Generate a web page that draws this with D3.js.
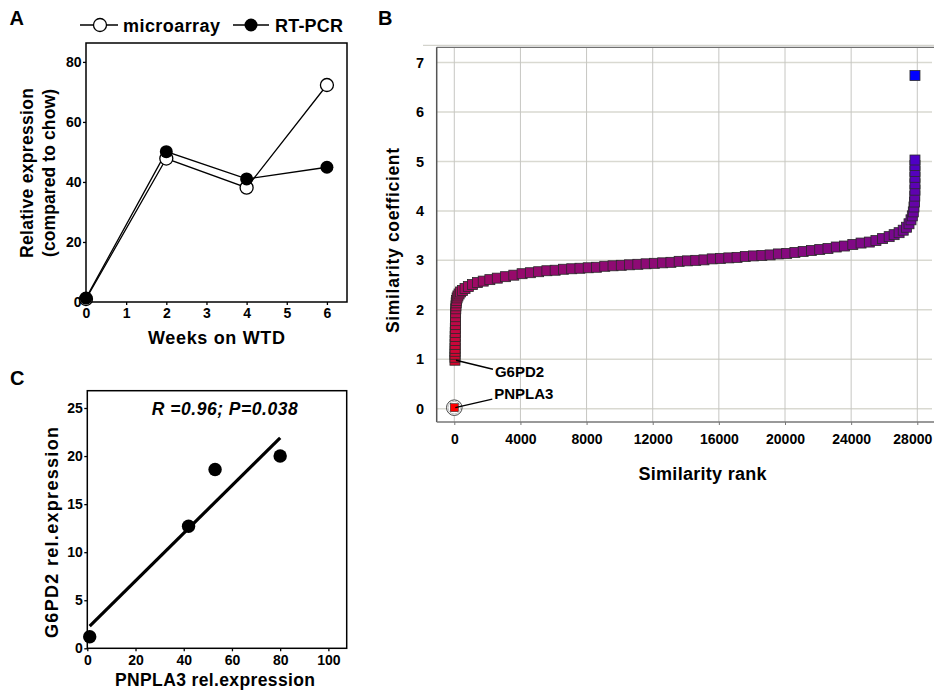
<!DOCTYPE html>
<html><head><meta charset="utf-8">
<script src="https://cdn.jsdelivr.net/npm/d3@7"></script>
<style>
body{margin:0;background:#fff;}
svg{display:block;background:#fff;}
text{font-family:"Liberation Sans",Arial,Helvetica,sans-serif;font-weight:bold;fill:#000;}
</style></head><body>
<svg id="chart" width="934" height="698"></svg>
<script>
// ---------------- DATA ----------------
// Panel A
const weeks = [0, 2, 4, 6];
const microarray = [1.0, 47.8, 38.1, 72.3];
const rtpcr = [1.3, 50.1, 41.0, 44.9];
const weekTicks = [0, 1, 2, 3, 4, 5, 6];
const exprTicks = [0, 20, 40, 60, 80];

// Panel B (similarity ranking)
const simRank = [
 40,42,44,46,48,50,52,55,58,62,66,70,75,80,90,100,115,135,
 170,220,290,380,500,650,850,1100,1400,1750,
 2150,2600,3100,3600,4100,4600,5100,5600,6100,6600,
 7100,7600,8100,8600,9100,9600,10100,10600,11100,11600,
 12100,12600,13100,13600,14100,14600,15100,15600,16100,16600,
 17100,17600,18100,18600,19100,19600,20100,20600,21100,21600,
 22100,22600,23100,23600,24100,24600,25100,25500,25900,26300,
 26600,26900,27150,27350,27500,27620,27700,27760,27800,27830,
 27850,27860,27860,27860,27860,27860,27860,27860
];
const simCoef = [
 0.98,1.04,1.10,1.16,1.22,1.30,1.38,1.46,1.54,1.62,1.70,1.78,1.86,1.94,2.02,2.08,2.14,2.19,
 2.24,2.28,2.32,2.36,2.39,2.43,2.47,2.51,2.55,2.58,
 2.61,2.64,2.67,2.70,2.73,2.75,2.77,2.79,2.80,2.82,
 2.83,2.84,2.85,2.86,2.88,2.89,2.90,2.91,2.92,2.93,
 2.94,2.95,2.96,2.98,2.99,3.00,3.01,3.03,3.04,3.05,
 3.06,3.08,3.09,3.10,3.11,3.13,3.14,3.16,3.18,3.20,
 3.22,3.24,3.27,3.29,3.32,3.35,3.37,3.40,3.44,3.48,
 3.52,3.56,3.61,3.67,3.74,3.82,3.90,3.98,4.08,4.18,
 4.30,4.42,4.55,4.68,4.80,4.92,5.03,6.74
];
const geneNames = ["G6PD2", "PNPLA3"];
const geneRank = [40, 0];
const geneCoef = [0.98, 0.02];
const rankTicks = [0, 4000, 8000, 12000, 16000, 20000, 24000, 28000];
const coefTicks = [0, 1, 2, 3, 4, 5, 6, 7];

// Panel C
const pnpla3Expr = [1, 42, 53, 80];
const g6pd2Expr = [1.2, 12.7, 18.6, 20.0];
const fitX = [1, 80];
const fitY = [2.3, 21.9];
const pnplaTicks = [0, 20, 40, 60, 80, 100];
const g6pdTicks = [0, 5, 10, 15, 20, 25];

// ---------------- DRAW ----------------
const svg = d3.select("#chart");

function styleAxis(g, size) {
  g.select(".domain").remove();
  g.selectAll(".tick line").attr("stroke", "#000").attr("stroke-width", 1.3);
  g.selectAll(".tick text").style("font-size", size + "px").attr("fill", "#000");
}
function title(g, txt, size, len) {
  return g.append("text").style("font-size", size + "px")
    .attr("textLength", len).attr("lengthAdjust", "spacing").text(txt);
}

// ===== Panel A =====
const xA = d3.scaleLinear().domain([0, 6.5]).range([86, 347]);
const yA = d3.scaleLinear().domain([0, 86.3]).range([302, 43]);
const gA = svg.append("g");
gA.append("g").attr("transform", "translate(0,302)")
  .call(d3.axisBottom(xA).tickValues(weekTicks).tickSize(3).tickPadding(3.5).tickFormat(d3.format("d")))
  .call(g => styleAxis(g, 14));
gA.append("g").attr("transform", "translate(86,0)")
  .call(d3.axisLeft(yA).tickValues(exprTicks).tickSize(3).tickPadding(1.5).tickFormat(d3.format("d")))
  .call(g => styleAxis(g, 14));
gA.append("rect").attr("x", xA(0)).attr("y", yA(86.3)).attr("width", xA(6.5) - xA(0)).attr("height", yA(0) - yA(86.3))
  .attr("fill", "none").attr("stroke", "#000").attr("stroke-width", 1.5);

const lineA = arr => d3.line().x((d, i) => xA(weeks[i])).y(d => yA(d))(arr);
gA.append("path").attr("d", lineA(microarray)).attr("fill", "none").attr("stroke", "#000").attr("stroke-width", 1.3);
gA.append("path").attr("d", lineA(rtpcr)).attr("fill", "none").attr("stroke", "#000").attr("stroke-width", 1.3);
gA.selectAll("circle.ma").data(microarray).join("circle").attr("class", "ma")
  .attr("cx", (d, i) => xA(weeks[i])).attr("cy", d => yA(d)).attr("r", 6.5)
  .attr("fill", "#fff").attr("stroke", "#000").attr("stroke-width", 1.3);
gA.selectAll("circle.rt").data(rtpcr).join("circle").attr("class", "rt")
  .attr("cx", (d, i) => xA(weeks[i])).attr("cy", d => yA(d)).attr("r", 6.5)
  .attr("fill", "#000");

// legend
const legA = gA.append("g");
legA.append("line").attr("x1", 80).attr("x2", 118).attr("y1", 25).attr("y2", 25).attr("stroke", "#000").attr("stroke-width", 1.3);
legA.append("circle").attr("cx", 100).attr("cy", 25).attr("r", 6.5).attr("fill", "#fff").attr("stroke", "#000").attr("stroke-width", 1.3);
title(legA, "microarray", 18, 97).attr("x", 123).attr("y", 31.7);
legA.append("line").attr("x1", 233).attr("x2", 269).attr("y1", 25).attr("y2", 25).attr("stroke", "#000").attr("stroke-width", 1.3);
legA.append("circle").attr("cx", 251).attr("cy", 25).attr("r", 6.5).attr("fill", "#000");
title(legA, "RT-PCR", 18, 68).attr("x", 275).attr("y", 31.7);

gA.append("text").attr("x", 9.5).attr("y", 25).style("font-size", "20px").text("A");
title(gA, "Relative expression", 17.5, 170).attr("transform", "translate(33,173) rotate(-90)").attr("text-anchor", "middle");
title(gA, "(compared to chow)", 17.5, 168).attr("transform", "translate(55,173) rotate(-90)").attr("text-anchor", "middle");
title(gA, "Weeks on WTD", 18, 137).attr("x", 216.5).attr("y", 344).attr("text-anchor", "middle");

// ===== Panel B =====
const xB = d3.scaleLinear().domain([-1064, 28890]).range([436.7, 932]);
const yB = d3.scaleLinear().domain([-0.27, 7.31]).range([422, 47.3]);
const gB = svg.append("g");
// gridlines
gB.append("g").selectAll("line").data(coefTicks).join("line")
  .attr("x1", xB(-1064)).attr("x2", 932).attr("y1", d => yB(d)).attr("y2", d => yB(d))
  .attr("stroke", "#d9d9d1").attr("stroke-width", 1.5);
gB.append("g").selectAll("line").data(rankTicks).join("line")
  .attr("x1", d => xB(d)).attr("x2", d => xB(d)).attr("y1", yB(7.31)).attr("y2", yB(-0.27))
  .attr("stroke", "#c6c6c2").attr("stroke-width", 1);
// frame lines
gB.append("line").attr("x1", 423).attr("x2", 934).attr("y1", 45.3).attr("y2", 45.3).attr("stroke", "#c8c8c0").attr("stroke-width", 1);
gB.append("line").attr("x1", xB(-1064)).attr("x2", 934).attr("y1", yB(7.31)).attr("y2", yB(7.31)).attr("stroke", "#707070").attr("stroke-width", 1.3);
gB.append("line").attr("x1", xB(-1064)).attr("x2", xB(-1064)).attr("y1", yB(7.31)).attr("y2", yB(-0.27)).attr("stroke", "#555").attr("stroke-width", 1.5);
gB.append("line").attr("x1", xB(-1064)).attr("x2", 934).attr("y1", yB(-0.27)).attr("y2", yB(-0.27)).attr("stroke", "#777").attr("stroke-width", 1.3);
// axes
gB.append("g").attr("transform", "translate(0," + yB(-0.27) + ")")
  .call(d3.axisBottom(xB).tickValues(rankTicks).tickSize(3).tickPadding(9).tickFormat(d3.format("d")))
  .call(g => {
    styleAxis(g, 14);
    g.selectAll(".tick line").attr("stroke", "#777").attr("stroke-width", 1);
    g.selectAll(".tick text").filter(d => d === 28000).attr("dx", -5);
  });
gB.append("g").attr("transform", "translate(" + xB(-1064) + ",0)")
  .call(d3.axisLeft(yB).tickValues(coefTicks).tickSize(0).tickPadding(12.7).tickFormat(d3.format("d")))
  .call(g => styleAxis(g, 14.5));

const colB = d3.scaleLinear().domain([0, 1, 2, 3, 4, 5, 6.74])
  .range(["#ff0000", "#d4062e", "#b6084e", "#8a0a78", "#6a04a2", "#5000c4", "#0000ff"]);
const sq = 10;
// PNPLA3 circle marker
gB.append("circle").attr("cx", xB(geneRank[1])).attr("cy", yB(geneCoef[1])).attr("r", 7.8)
  .attr("fill", "#fff").attr("stroke", "#444").attr("stroke-width", 1);
gB.append("circle").attr("cx", xB(geneRank[1])).attr("cy", yB(geneCoef[1])).attr("r", 6.3)
  .attr("fill", "none").attr("stroke", "#bbb").attr("stroke-width", 1);
gB.append("rect").attr("x", xB(geneRank[1]) - 4).attr("y", yB(geneCoef[1]) - 4).attr("width", 8).attr("height", 8)
  .attr("fill", colB(geneCoef[1])).attr("stroke", "#333").attr("stroke-width", 0.6);

gB.append("g").selectAll("rect").data(simCoef).join("rect")
  .attr("x", (d, i) => xB(simRank[i]) - sq / 2).attr("y", d => yB(d) - sq / 2)
  .attr("width", sq).attr("height", sq)
  .attr("fill", d => colB(d)).attr("stroke", "#2a2a2a").attr("stroke-width", 0.8);

// gene labels
const labelDX = [40, 40], labelDY = [17, -9];
geneNames.forEach((n, i) => {
  const px = xB(geneRank[i]), py = yB(geneCoef[i]);
  gB.append("line").attr("x1", px + 1).attr("y1", py).attr("x2", px + labelDX[i] - 2).attr("y2", py + labelDY[i] - (i === 0 ? 8 : -0.5))
    .attr("stroke", "#000").attr("stroke-width", 1.4);
  gB.append("text").attr("x", px + labelDX[i]).attr("y", py + labelDY[i]).style("font-size", "15px").text(n);
});

gB.append("text").attr("x", 378).attr("y", 25).style("font-size", "20px").text("B");
title(gB, "Similarity coefficient", 17.5, 185).attr("transform", "translate(398.5,240.5) rotate(-90)").attr("text-anchor", "middle");
title(gB, "Similarity rank", 18, 128).attr("x", 702.5).attr("y", 480).attr("text-anchor", "middle");

// ===== Panel C =====
const xC = d3.scaleLinear().domain([0, 107.6]).range([87.3, 346.7]);
const yC = d3.scaleLinear().domain([0, 26.8]).range([648.3, 390.7]);
const gC = svg.append("g");
gC.append("g").attr("transform", "translate(0," + yC(0) + ")")
  .call(d3.axisBottom(xC).tickValues(pnplaTicks).tickSize(3).tickPadding(4).tickFormat(d3.format("d")))
  .call(g => styleAxis(g, 14));
gC.append("g").attr("transform", "translate(" + xC(0) + ",0)")
  .call(d3.axisLeft(yC).tickValues(g6pdTicks).tickSize(3).tickPadding(1.5).tickFormat(d3.format("d")))
  .call(g => styleAxis(g, 14));
gC.append("rect").attr("x", xC(0)).attr("y", yC(26.8)).attr("width", xC(107.6) - xC(0)).attr("height", yC(0) - yC(26.8))
  .attr("fill", "none").attr("stroke", "#000").attr("stroke-width", 1.5);
gC.append("line").attr("x1", xC(fitX[0])).attr("y1", yC(fitY[0])).attr("x2", xC(fitX[1])).attr("y2", yC(fitY[1]))
  .attr("stroke", "#000").attr("stroke-width", 3.2);
gC.selectAll("circle").data(g6pd2Expr).join("circle")
  .attr("cx", (d, i) => xC(pnpla3Expr[i])).attr("cy", d => yC(d)).attr("r", 6.7).attr("fill", "#000");
title(gC, "R =0.96; P=0.038", 17.5, 146).attr("x", 151.7).attr("y", 415).style("font-style", "italic");
gC.append("text").attr("x", 10).attr("y", 385).style("font-size", "20px").text("C");
title(gC, "G6PD2 rel.expression", 18, 211).attr("transform", "translate(58,532.5) rotate(-90)").attr("text-anchor", "middle");
title(gC, "PNPLA3 rel.expression", 17.5, 200).attr("x", 215).attr("y", 686).attr("text-anchor", "middle");
</script>
</body></html>
